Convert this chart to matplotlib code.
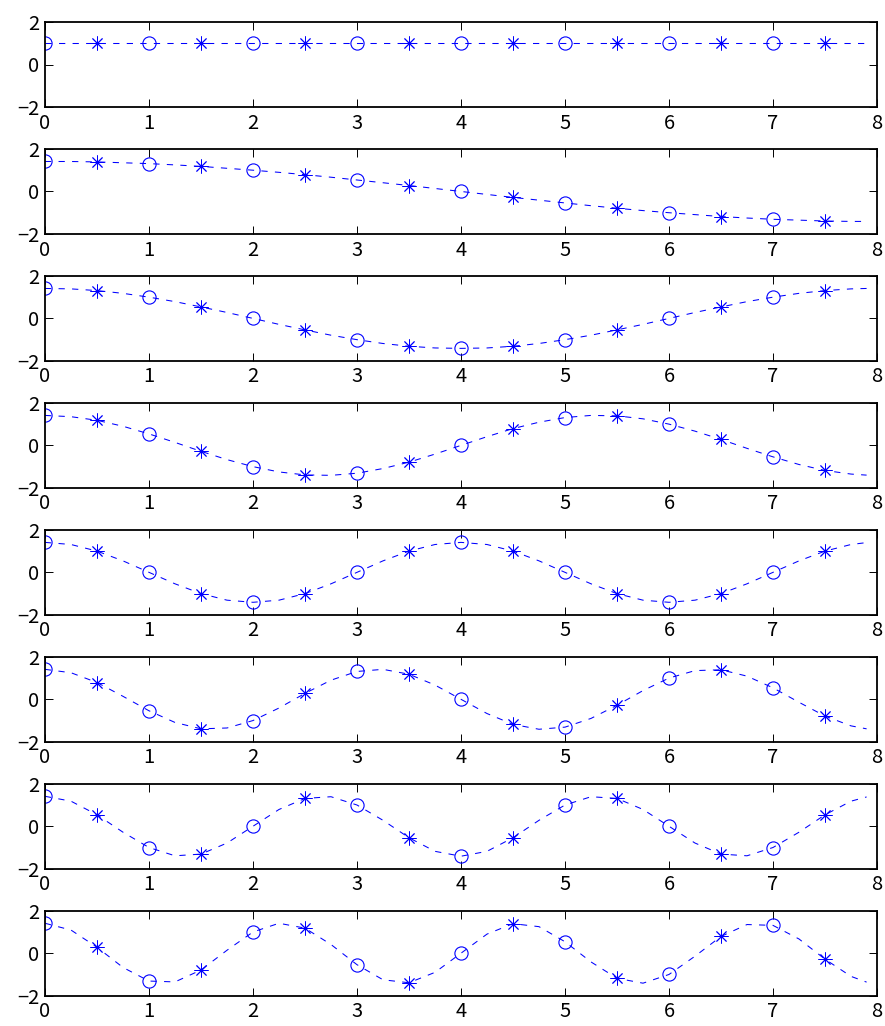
import matplotlib
matplotlib.use("Agg")
import matplotlib.pyplot as plt

plt.rcParams['font.family'] = ['Noto Sans CJK JP', 'DejaVu Sans']
plt.rcParams['axes.unicode_minus'] = True

# sample positions of the dashed curves
x_line = [0.0, 0.25, 0.5, 0.75, 1.0, 1.25, 1.5, 1.75, 2.0, 2.25, 2.5, 2.75,
          3.0, 3.25, 3.5, 3.75, 4.0, 4.25, 4.5, 4.75, 5.0, 5.25, 5.5, 5.75,
          6.0, 6.25, 6.5, 6.75, 7.0, 7.25, 7.5, 7.75, 7.9]

k0 = [1.0, 1.0, 1.0, 1.0, 1.0, 1.0, 1.0, 1.0, 1.0, 1.0, 1.0, 1.0, 1.0, 1.0, 1.0, 1.0, 1.0,
      1.0, 1.0, 1.0, 1.0, 1.0, 1.0, 1.0, 1.0, 1.0, 1.0, 1.0, 1.0, 1.0, 1.0, 1.0, 1.0]
k1 = [1.41, 1.41, 1.39, 1.35, 1.31, 1.25, 1.18, 1.09, 1.00, 0.90, 0.79, 0.67, 0.54, 0.41, 0.28, 0.14, 0.00,
      -0.14, -0.28, -0.41, -0.54, -0.67, -0.79, -0.90, -1.00, -1.09, -1.18, -1.25, -1.31, -1.35, -1.39, -1.41, -1.41]
k2 = [1.41, 1.39, 1.31, 1.18, 1.00, 0.79, 0.54, 0.28, 0.00, -0.28, -0.54, -0.79, -1.00, -1.18, -1.31, -1.39, -1.41,
      -1.39, -1.31, -1.18, -1.00, -0.79, -0.54, -0.28, 0.00, 0.28, 0.54, 0.79, 1.00, 1.18, 1.31, 1.39, 1.41]
k3 = [1.41, 1.35, 1.18, 0.90, 0.54, 0.14, -0.28, -0.67, -1.00, -1.25, -1.39, -1.41, -1.31, -1.09, -0.79, -0.41, 0.00,
      0.41, 0.79, 1.09, 1.31, 1.41, 1.39, 1.25, 1.00, 0.67, 0.28, -0.14, -0.54, -0.90, -1.18, -1.35, -1.40]
k4 = [1.41, 1.31, 1.00, 0.54, 0.00, -0.54, -1.00, -1.31, -1.41, -1.31, -1.00, -0.54, 0.00, 0.54, 1.00, 1.31, 1.41,
      1.31, 1.00, 0.54, 0.00, -0.54, -1.00, -1.31, -1.41, -1.31, -1.00, -0.54, 0.00, 0.54, 1.00, 1.31, 1.40]
k5 = [1.41, 1.25, 0.79, 0.14, -0.54, -1.09, -1.39, -1.35, -1.00, -0.41, 0.28, 0.90, 1.31, 1.41, 1.18, 0.67, 0.00,
      -0.67, -1.18, -1.41, -1.31, -0.90, -0.28, 0.41, 1.00, 1.35, 1.39, 1.09, 0.54, -0.14, -0.79, -1.25, -1.39]
k6 = [1.41, 1.18, 0.54, -0.28, -1.00, -1.39, -1.31, -0.79, 0.00, 0.79, 1.31, 1.39, 1.00, 0.28, -0.54, -1.18, -1.41,
      -1.18, -0.54, 0.28, 1.00, 1.39, 1.31, 0.79, 0.00, -0.79, -1.31, -1.39, -1.00, -0.28, 0.54, 1.18, 1.38]
k7 = [1.41, 1.09, 0.28, -0.67, -1.31, -1.35, -0.79, 0.14, 1.00, 1.41, 1.18, 0.41, -0.54, -1.25, -1.39, -0.90, 0.00,
      0.90, 1.39, 1.25, 0.54, -0.41, -1.18, -1.41, -1.00, -0.14, 0.79, 1.35, 1.31, 0.67, -0.28, -1.09, -1.36]

series = [k0, k1, k2, k3, k4, k5, k6, k7]
x_ticks = [0, 1, 2, 3, 4, 5, 6, 7, 8]
y_ticks = [-2, 0, 2]
x_tick_labels = ['0', '1', '2', '3', '4', '5', '6', '7', '8']
y_tick_labels = ['\u22122', '0', '2']

W, H = 885, 1026
fig = plt.figure(figsize=(W / 100, H / 100), dpi=100)

left_px, right_px = 45, 877
top0_px, step_px, h_px = 22, 126.96, 85

tick_font = dict(family=['Noto Sans CJK JP', 'DejaVu Sans'], size=14.5)

blue = '#0000ff'
for i, ys in enumerate(series):
    top = top0_px + i * step_px
    ax = fig.add_axes([left_px / W, 1 - (top + h_px) / H,
                       (right_px - left_px) / W, h_px / H])
    ax.plot(x_line, ys, color=blue, lw=0.75, linestyle=(0, (6, 7)))
    ax.plot(x_line[0:32:4], ys[0:32:4], linestyle='none', marker='o',
            markersize=9.5, markerfacecolor='none', markeredgecolor=blue,
            markeredgewidth=0.8)
    ax.plot(x_line[2:32:4], ys[2:32:4], linestyle='none', marker=(8, 2, 0),
            markersize=10, markeredgecolor=blue, color=blue,
            markeredgewidth=0.65)
    ax.set_xlim(0, 8)
    ax.set_ylim(-2, 2)
    ax.set_xticks(x_ticks)
    ax.set_yticks(y_ticks)
    ax.set_xticklabels(x_tick_labels, fontdict=tick_font)
    ax.set_yticklabels(y_tick_labels, fontdict=tick_font)
    ax.tick_params(direction='in', top=True, right=True, length=5.8,
                   width=0.7, pad=4)
    for sp in ax.spines.values():
        sp.set_linewidth(1.3)

fig.savefig('out.png', dpi=100)
